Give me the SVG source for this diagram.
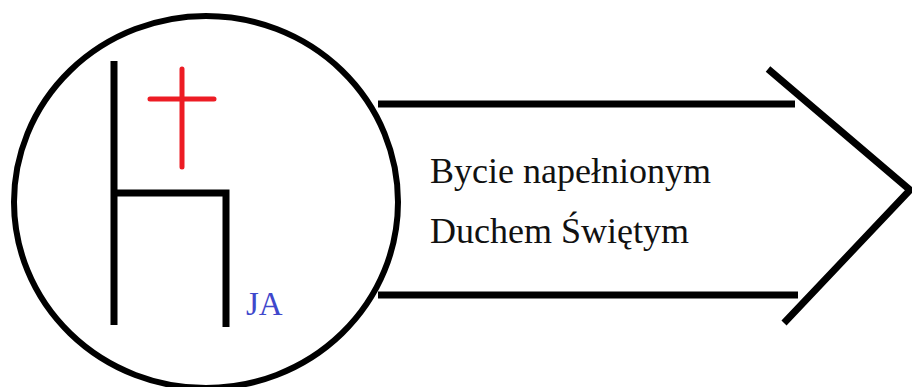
<svg xmlns="http://www.w3.org/2000/svg" width="912" height="387" viewBox="0 0 912 387">
<style>
.ln{fill:none;stroke:#000;stroke-width:7;stroke-linecap:butt}
.rd{fill:none;stroke:#ed1c24;stroke-width:5;stroke-linecap:round}
.t{font-family:"Liberation Serif","Times New Roman",serif;font-size:36px;fill:#111}
</style>
<rect width="912" height="387" fill="#fff"/>
<g id="arrow">
<path class="ln" d="M378 104 H795 M378 295 H798"/>
<path class="ln" stroke-linecap="round" d="M768 69 L910 190 L784 323"/>
<text class="t" x="430" y="183">Bycie napełnionym</text>
<text class="t" x="430" y="243">Duchem Świętym</text>
</g>
<g id="circle">
<ellipse cx="206" cy="202" rx="192" ry="186" fill="none" stroke="#000" stroke-width="6"/>
<path class="ln" d="M114 61 V325 M114 193 H226 V327"/>
<path class="rd" d="M182 69 V167 M150 99 H214"/>
<text x="246" y="315" font-family="Liberation Serif,serif" font-size="33" fill="#3f48cc">JA</text>
</g>
</svg>
